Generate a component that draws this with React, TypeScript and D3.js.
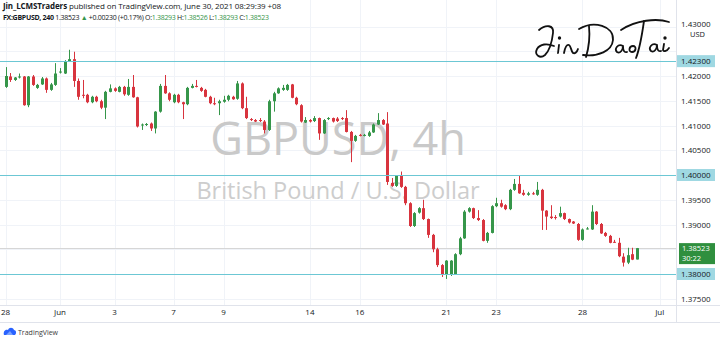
import React from 'react';
import * as d3 from 'd3';

// GBPUSD 4h candles, 28 May – 30 Jun 2021 (bar index 0 = 28 May 01:00 +08)
const open = [
  1.4178, 1.4199, 1.4192, 1.4198, 1.4199, 1.4141, 1.4199, 1.4176, 1.4183, 1.4195,
  1.4172, 1.4182, 1.4207, 1.4205, 1.4230, 1.4234, 1.4190, 1.4162, 1.4162, 1.4147,
  1.4158, 1.4149, 1.4136, 1.4168, 1.4175, 1.4168, 1.4178, 1.4162, 1.4178, 1.4157,
  1.4100, 1.4101, 1.4104, 1.4094, 1.4128, 1.4180, 1.4165, 1.4147, 1.4162, 1.4147,
  1.4143, 1.4176, 1.4180, 1.4176, 1.4172, 1.4158, 1.4145, 1.4145, 1.4148, 1.4152,
  1.4158, 1.4154, 1.4185, 1.4135, 1.4113, 1.4111, 1.4111, 1.4108, 1.4091, 1.4149,
  1.4165, 1.4172, 1.4172, 1.4183, 1.4156, 1.4141, 1.4106, 1.4111, 1.4109, 1.4115,
  1.4084, 1.4114, 1.4115, 1.4114, 1.4115, 1.4115, 1.4087, 1.4069, 1.4081, 1.4080,
  1.4079, 1.4086, 1.4102, 1.4111, 1.4104, 1.3984, 1.3978, 1.3998, 1.3976, 1.3943,
  1.3897, 1.3924, 1.3933, 1.3911, 1.3879, 1.3850, 1.3818, 1.3798, 1.3800, 1.3800,
  1.3840, 1.3872, 1.3926, 1.3933, 1.3913, 1.3909, 1.3867, 1.3883, 1.3937, 1.3943,
  1.3939, 1.3931, 1.3970, 1.3982, 1.3964, 1.3960, 1.3963, 1.3960, 1.3970, 1.3928,
  1.3916, 1.3915, 1.3916, 1.3923, 1.3911, 1.3906, 1.3901, 1.3869, 1.3891, 1.3890,
  1.3926, 1.3901, 1.3883, 1.3877, 1.3865, 1.3863, 1.3835, 1.3823, 1.3840, 1.38293,
];
const high = [
  1.4218, 1.4206, 1.4198, 1.4205, 1.4200, 1.4200, 1.4202, 1.4184, 1.4198, 1.4197,
  1.4186, 1.4226, 1.4216, 1.4232, 1.4253, 1.4249, 1.4195, 1.4192, 1.4164, 1.4160,
  1.4160, 1.4152, 1.4170, 1.4183, 1.4177, 1.4180, 1.4180, 1.4194, 1.4202, 1.4158,
  1.4104, 1.4105, 1.4106, 1.4129, 1.4184, 1.4202, 1.4167, 1.4164, 1.4164, 1.4148,
  1.4178, 1.4184, 1.4192, 1.4178, 1.4174, 1.4160, 1.4156, 1.4152, 1.4160, 1.4162,
  1.4160, 1.4190, 1.4187, 1.4158, 1.4115, 1.4113, 1.4115, 1.4111, 1.4152, 1.4168,
  1.4177, 1.4182, 1.4184, 1.4184, 1.4158, 1.4143, 1.4117, 1.4113, 1.4119, 1.4116,
  1.4113, 1.4117, 1.4116, 1.4117, 1.4117, 1.4131, 1.4089, 1.4081, 1.4083, 1.4083,
  1.4089, 1.4104, 1.4125, 1.4113, 1.4127, 1.3994, 1.4000, 1.4007, 1.3978, 1.3945,
  1.3925, 1.3935, 1.3950, 1.3912, 1.3881, 1.3853, 1.3820, 1.3828, 1.3828, 1.3842,
  1.3875, 1.3929, 1.3935, 1.3934, 1.3929, 1.3911, 1.3885, 1.3939, 1.3954, 1.3950,
  1.3941, 1.3972, 1.3992, 1.4000, 1.3970, 1.3966, 1.3966, 1.3986, 1.3972, 1.3929,
  1.3939, 1.3919, 1.3936, 1.3924, 1.3912, 1.3907, 1.3903, 1.3892, 1.3895, 1.3939,
  1.3927, 1.3903, 1.3885, 1.3879, 1.3869, 1.3873, 1.3842, 1.3853, 1.3853, 1.38526,
];
const low = [
  1.4176, 1.4188, 1.4190, 1.4195, 1.4140, 1.4137, 1.4180, 1.4174, 1.4182, 1.4166,
  1.4170, 1.4180, 1.4205, 1.4204, 1.4229, 1.4178, 1.4152, 1.4155, 1.4145, 1.4145,
  1.4147, 1.4133, 1.4113, 1.4167, 1.4168, 1.4167, 1.4160, 1.4160, 1.4156, 1.4096,
  1.4091, 1.4099, 1.4089, 1.4084, 1.4126, 1.4164, 1.4149, 1.4145, 1.4145, 1.4113,
  1.4141, 1.4175, 1.4177, 1.4168, 1.4157, 1.4143, 1.4141, 1.4121, 1.4146, 1.4149,
  1.4152, 1.4152, 1.4133, 1.4113, 1.4109, 1.4107, 1.4107, 1.4084, 1.4089, 1.4128,
  1.4164, 1.4170, 1.4170, 1.4155, 1.4141, 1.4106, 1.4105, 1.4106, 1.4107, 1.4071,
  1.4083, 1.4111, 1.4106, 1.4107, 1.4111, 1.4086, 1.4026, 1.4067, 1.4078, 1.4078,
  1.4077, 1.4085, 1.4101, 1.4101, 1.3980, 1.3976, 1.3976, 1.3974, 1.3939, 1.3895,
  1.3895, 1.3922, 1.3909, 1.3873, 1.3844, 1.3814, 1.3794, 1.3790, 1.3796, 1.3798,
  1.3838, 1.3871, 1.3924, 1.3911, 1.3907, 1.3866, 1.3863, 1.3882, 1.3935, 1.3934,
  1.3929, 1.3929, 1.3968, 1.3962, 1.3958, 1.3958, 1.3960, 1.3958, 1.3889, 1.3889,
  1.3911, 1.3910, 1.3914, 1.3909, 1.3902, 1.3901, 1.3867, 1.3867, 1.3890, 1.3889,
  1.3899, 1.3881, 1.3875, 1.3862, 1.3863, 1.3834, 1.3815, 1.3820, 1.3828, 1.38293,
];
const close = [
  1.4200, 1.4192, 1.4197, 1.4199, 1.4141, 1.4199, 1.4182, 1.4182, 1.4195, 1.4172,
  1.4183, 1.4205, 1.4209, 1.4229, 1.4234, 1.4190, 1.4158, 1.4161, 1.4147, 1.4158,
  1.4149, 1.4136, 1.4168, 1.4175, 1.4170, 1.4178, 1.4163, 1.4178, 1.4157, 1.4098,
  1.4102, 1.4103, 1.4094, 1.4128, 1.4180, 1.4165, 1.4152, 1.4162, 1.4147, 1.4143,
  1.4176, 1.4180, 1.4178, 1.4170, 1.4158, 1.4145, 1.4144, 1.4149, 1.4152, 1.4160,
  1.4153, 1.4185, 1.4135, 1.4115, 1.4112, 1.4108, 1.4110, 1.4091, 1.4149, 1.4165,
  1.4175, 1.4176, 1.4182, 1.4156, 1.4143, 1.4108, 1.4111, 1.4108, 1.4115, 1.4084,
  1.4111, 1.4115, 1.4108, 1.4109, 1.4114, 1.4087, 1.4069, 1.4079, 1.4080, 1.4081,
  1.4086, 1.4102, 1.4111, 1.4102, 1.3986, 1.3978, 1.3998, 1.3976, 1.3943, 1.3897,
  1.3923, 1.3933, 1.3911, 1.3879, 1.3850, 1.3818, 1.3798, 1.3827, 1.3827, 1.3840,
  1.3872, 1.3926, 1.3933, 1.3913, 1.3909, 1.3867, 1.3883, 1.3937, 1.3943, 1.3936,
  1.3931, 1.3970, 1.3982, 1.3963, 1.3960, 1.3963, 1.3962, 1.3970, 1.3928, 1.3916,
  1.3913, 1.3913, 1.3923, 1.3911, 1.3904, 1.3902, 1.3869, 1.3890, 1.3892, 1.3926,
  1.3901, 1.3882, 1.3877, 1.3863, 1.3864, 1.3836, 1.3823, 1.3838, 1.3829, 1.38523,
];

// time axis: label text and the bar index it sits on
const dateLabels = ['28', 'Jun', '3', '7', '9', '14', '16', '21', '23', '28', 'Jul'];
const dateBars = [0, 12, 24, 37, 48, 67, 78, 97, 108, 127, 144];

// price axis ticks
const priceTicks = [1.375, 1.38, 1.385, 1.39, 1.395, 1.4, 1.405, 1.41, 1.415, 1.42, 1.425, 1.43];

// horizontal support / resistance levels
const levels = [1.423, 1.4, 1.38];

const lastPrice = 1.38523;
const countdown = '30:22';

const UP = '#36964a';
const DOWN = '#d8343e';
const LEVEL = '#6cc7d4';
const LEVEL_BOX = '#9fd8e2';
const FONT = '"Open Sans", "Noto Sans", sans-serif';

export default function App() {
  const W = 720;
  const H = 341;
  const paneRight = 676;
  const paneBottom = 305;
  const axisBottom = 322;

  const y = d3.scaleLinear().domain([1.375, 1.43]).range([298.75, 26.5]);
  const x = d3.scaleLinear().domain([0, 139]).range([5.5, 637]);
  const fmt = d3.format('.5f');

  const candles = d3.range(open.length).map((i) => {
    const o = open[i];
    const c = close[i];
    const up = c >= o;
    const cx = Math.round(x(i));
    const top = y(Math.max(o, c));
    const bot = y(Math.min(o, c));
    return {
      i,
      cx,
      color: up ? UP : DOWN,
      yTop: top,
      h: Math.max(1, bot - top),
      yHigh: y(high[i]),
      yLow: y(low[i]),
    };
  });

  // tick labels hidden under a level box or the last-price box
  const covered = (p: number) =>
    levels.some((l) => Math.abs(y(l) - y(p)) < 11) || Math.abs(y(lastPrice) - y(p)) < 12;

  const yLast = y(lastPrice);

  return (
    <svg
      width={W}
      height={H}
      viewBox={`0 0 ${W} ${H}`}
      style={{ position: 'absolute', left: 0, top: 0, background: '#fff' }}
      fontFamily={FONT}
    >
      <rect x={0} y={0} width={W} height={H} fill="#ffffff" />

      {/* grid */}
      <g stroke="#f0f3f8" strokeWidth={1}>
        {priceTicks.map((p) => (
          <line key={'h' + p} x1={0} x2={paneRight} y1={Math.round(y(p)) + 0.5} y2={Math.round(y(p)) + 0.5} />
        ))}
        {dateBars.map((b, k) => (
          <line key={'v' + k} x1={Math.round(x(b)) + 0.5} x2={Math.round(x(b)) + 0.5} y1={0} y2={paneBottom} />
        ))}
      </g>

      {/* symbol watermark */}
      <g textAnchor="middle" fontFamily={FONT}>
        <text x={338} y={155} fontSize={45} fill="#c9c9c9">GBPUSD, 4h</text>
        <text x={338} y={199} fontSize={23.5} fill="#cdcdcd">British Pound / U.S. Dollar</text>
      </g>

      {/* last price line */}
      <line x1={0} x2={paneRight} y1={Math.round(yLast) + 0.5} y2={Math.round(yLast) + 0.5} stroke="#d6d6d6" strokeWidth={1} />

      {/* candles */}
      <g>
        {candles.map((d) => (
          <g key={d.i}>
            <line x1={d.cx + 0.5} x2={d.cx + 0.5} y1={d.yHigh} y2={d.yLow} stroke={d.color} strokeWidth={1} />
            <rect x={d.cx - 1} y={d.yTop} width={3} height={d.h} fill={d.color} />
          </g>
        ))}
      </g>

      {/* levels */}
      <g>
        {levels.map((p) => (
          <line key={p} x1={0} x2={paneRight} y1={Math.round(y(p)) + 0.5} y2={Math.round(y(p)) + 0.5} stroke={LEVEL} strokeWidth={1} />
        ))}
      </g>

      {/* signature */}
      <g fill="none" stroke="#111" strokeWidth={1.8} strokeLinecap="round" strokeLinejoin="round">
        <path d="M539 30 C546 24, 554 25, 553 33 C552 42, 550 50, 545 55 C540 59, 534 55, 537 49 C540 44, 547 43, 554 46" />
        <path d="M559 45 L558 53" />
        <circle cx={559.5} cy={38} r={0.8} fill="#111" />
        <path d="M564 53 C565 47, 567 44, 569 45 C571 46, 571 51, 573 53 C575 54, 577 52, 578 49" />
        <path d="M589 26 C590 36, 589 47, 586 57" />
        <path d="M579 29 C594 20, 614 26, 613 40 C612 51, 598 57, 583 55" />
        <path d="M623 46 C618 43, 614 49, 617 52 C620 54, 623 50, 623 46 C623 50, 624 53, 627 52" />
        <path d="M633 46 C629 46, 628 52, 632 52 C636 52, 637 46, 633 46" />
        <path d="M621 30 C636 20, 657 18, 669 22" />
        <path d="M644 21 C642 35, 640 48, 636 58" />
        <path d="M657 45 C652 42, 648 48, 651 51 C654 53, 657 49, 657 45 C657 49, 658 52, 661 51" />
        <path d="M664 44 L663 50 C664 52, 667 51, 669 48" />
        <circle cx={665} cy={38} r={0.8} fill="#111" />
      </g>

      {/* header */}
      <g fill="#131722">
        <text x={3} y={9} fontSize={8} textLength={278} lengthAdjust="spacing">
          <tspan fontWeight={700}>Jin_LCMSTraders</tspan>
          <tspan> published on TradingView.com, June 30, 2021 08:29:39 +08</tspan>
        </text>
        <text x={3} y={20} fontSize={7} textLength={266} lengthAdjust="spacing">
          <tspan fontWeight={700}>FX:GBPUSD, 240</tspan>
          <tspan> 1.38523 </tspan>
          <tspan fill={UP}>▲</tspan>
          <tspan> +0.00230 (+0.17%) </tspan>
          <tspan>O:</tspan><tspan fill={UP}>1.38293 </tspan>
          <tspan>H:</tspan><tspan fill={UP}>1.38526 </tspan>
          <tspan>L:</tspan><tspan fill={UP}>1.38293 </tspan>
          <tspan>C:</tspan><tspan fill={UP}>1.38523</tspan>
        </text>
      </g>

      {/* price axis */}
      <rect x={paneRight} y={0} width={W - paneRight} height={axisBottom} fill="#fff" />
      <line x1={paneRight + 0.5} x2={paneRight + 0.5} y1={0} y2={axisBottom} stroke="#e0e3eb" />
      <g fontSize={8} fill="#131722">
        {priceTicks.filter((p) => !covered(p)).map((p) => (
          <text key={p} x={681} y={p === 1.43 ? 27 : y(p) + 3}>{fmt(p)}</text>
        ))}
      </g>
      <text x={690} y={37} fontSize={7.5} fill="#131722">USD</text>

      {levels.map((p) => (
        <g key={'lb' + p}>
          <rect x={paneRight + 1} y={y(p) - 6} width={38} height={12} fill={LEVEL_BOX} />
          <text x={681} y={y(p) + 3} fontSize={8} fill="#131722">{fmt(p)}</text>
        </g>
      ))}

      <g>
        <rect x={679} y={yLast - 5} width={36} height={21} fill="#2f8f3e" />
        <text x={682} y={yLast + 2.5} fontSize={7.5} fill="#fff">{fmt(lastPrice)}</text>
        <text x={682} y={yLast + 13} fontSize={7.5} fill="#fff">{countdown}</text>
      </g>

      {/* time axis */}
      <line x1={0} x2={W} y1={paneBottom + 0.5} y2={paneBottom + 0.5} stroke="#e0e3eb" />
      <line x1={0} x2={W} y1={axisBottom + 0.5} y2={axisBottom + 0.5} stroke="#e0e3eb" />
      <g fontSize={8} fill="#131722" textAnchor="middle">
        {dateLabels.map((t, k) => (
          <text key={k} x={x(dateBars[k])} y={315}>{t}</text>
        ))}
      </g>

      {/* footer logo */}
      <g>
        <path d="M4 335 C3 332, 5 329, 8 330 C9 327, 13 327, 14 330 C16 330, 17 333, 15 335 Z" fill="#2962ff" />
        <path d="M6 335 L10 331 L13 335 Z" fill="#7aa2ff" />
        <text x={18} y={335} fontSize={7} fill="#3c3c3c">TradingView</text>
      </g>
    </svg>
  );
}
